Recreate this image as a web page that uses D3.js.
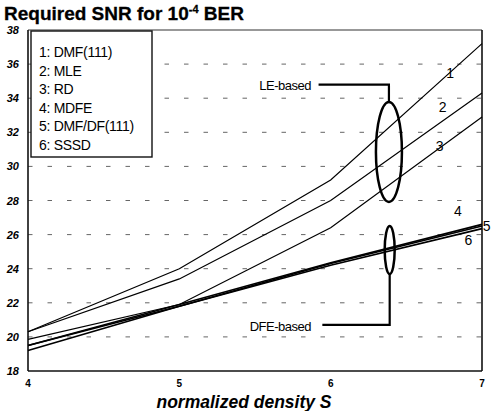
<!DOCTYPE html>
<html><head><meta charset="utf-8">
<script src="https://cdn.jsdelivr.net/npm/d3@7"></script>
<style>body{margin:0;background:#fff}svg{display:block}</style>
</head><body>
<script>
// ---- data ----
const densities = [4, 5, 6, 7];
const seriesIds = ["1", "2", "3", "4", "5", "6"];
const seriesNames = ["DMF(111)", "MLE", "RD", "MDFE", "DMF/DF(111)", "SSSD"];
const dmf111 = [20.3, 24.0, 29.2, 37.2];
const mle    = [20.3, 23.4, 28.0, 34.3];
const rd     = [19.85, 21.9, 26.4, 32.9];
const mdfe   = [19.5, 21.9, 24.35, 26.6];
const dmfdf  = [19.5, 21.8, 24.3, 26.5];
const sssd   = [19.2, 21.8, 24.2, 26.35];
const seriesValues = [dmf111, mle, rd, mdfe, dmfdf, sssd];
const yTicks = [18, 20, 22, 24, 26, 28, 30, 32, 34, 36, 38];
const xTicks = [4, 5, 6, 7];

const W = 491, H = 411;
const svg = d3.select("body").append("svg").attr("width", W).attr("height", H);
const x = d3.scaleLinear().domain([4, 7]).range([28, 482]);
const y = d3.scaleLinear().domain([18, 38]).range([371, 30]);
const FONT = "Liberation Sans, Arial, sans-serif";

// grid
svg.append("g").selectAll("line").data(yTicks.filter(v => v > 18 && v < 38)).join("line")
  .attr("x1", x(4)).attr("x2", x(7)).attr("y1", d => y(d)).attr("y2", d => y(d))
  .attr("stroke", "#666").attr("stroke-width", 1).attr("stroke-dasharray", "4.5,15");

// frame
svg.append("line").attr("x1", x(4)).attr("x2", x(7)).attr("y1", y(38)).attr("y2", y(38))
  .attr("stroke", "#333").attr("stroke-width", 1.2);
svg.append("line").attr("x1", x(4)).attr("x2", x(7)).attr("y1", y(18)).attr("y2", y(18))
  .attr("stroke", "#111").attr("stroke-width", 1.6);
svg.append("line").attr("x1", x(4)).attr("x2", x(4)).attr("y1", y(38)).attr("y2", y(18))
  .attr("stroke", "#111").attr("stroke-width", 1.6);
svg.append("line").attr("x1", x(7)).attr("x2", x(7)).attr("y1", y(38)).attr("y2", y(18))
  .attr("stroke", "#111").attr("stroke-width", 1.6);

// y tick labels
svg.append("g").selectAll("text").data(yTicks).join("text")
  .attr("x", 19).attr("y", d => y(d) + 4).attr("text-anchor", "end")
  .attr("font-family", FONT).attr("font-weight", "bold")
  .attr("font-style", "italic").attr("font-size", 11).text(d => d);
// x tick labels
svg.append("g").selectAll("text").data(xTicks).join("text")
  .attr("x", d => x(d)).attr("y", 387).attr("text-anchor", "middle")
  .attr("font-family", FONT).attr("font-weight", "bold")
  .attr("font-size", 10).text(d => d);

// lines
const line = d3.line().x((d, i) => x(densities[i])).y(d => y(d));
svg.append("g").selectAll("path").data(seriesValues).join("path")
  .attr("d", d => line(d)).attr("fill", "none").attr("stroke", "#000")
  .attr("stroke-width", (d, i) => i >= 3 ? 1.6 : 1.2);

// series end labels
const endLabels = [
  {id: "1", dx: 6.79, v: 35.5},
  {id: "2", dx: 6.74, v: 33.5},
  {id: "3", dx: 6.72, v: 31.2},
  {id: "4", dx: 6.84, v: 27.4},
  {id: "5", dx: 7.03, v: 26.5},
  {id: "6", dx: 6.91, v: 25.7}
];
svg.append("g").selectAll("text").data(endLabels).join("text")
  .attr("x", d => x(d.dx)).attr("y", d => y(d.v) + 5).attr("text-anchor", "middle")
  .attr("font-family", FONT).attr("font-size", 14)
  .text(d => d.id);

// LE-based annotation
const ann = svg.append("g").attr("fill", "none").attr("stroke", "#000");
ann.append("ellipse").attr("cx", x(6.385)).attr("cy", y(30.85)).attr("rx", 13).attr("ry", 50)
  .attr("stroke-width", 2.5);
ann.append("path").attr("d", `M${x(5.92)},${y(34.8)} H${x(6.385)} V${y(30.85) - 50}`)
  .attr("stroke-width", 2.2);
// DFE-based annotation
ann.append("ellipse").attr("cx", x(6.39)).attr("cy", y(25.1)).attr("rx", 5).attr("ry", 24)
  .attr("stroke-width", 2.5);
ann.append("path").attr("d", `M${x(5.945)},${y(20.7)} H${x(6.39)} V${y(25.1) + 24}`)
  .attr("stroke-width", 2.2);

svg.append("text").attr("x", x(5.87)).attr("y", y(34.8) + 5).attr("text-anchor", "end")
  .attr("font-family", FONT).attr("font-size", 13)
  .attr("letter-spacing", -0.5).text("LE-based");
svg.append("text").attr("x", x(5.87)).attr("y", y(20.7) + 6).attr("text-anchor", "end")
  .attr("font-family", FONT).attr("font-size", 13)
  .attr("letter-spacing", -0.5).text("DFE-based");

// legend
svg.append("rect").attr("x", 31).attr("y", 31).attr("width", 121).attr("height", 126)
  .attr("fill", "#fff").attr("stroke", "#111").attr("stroke-width", 1.4);
svg.append("g").selectAll("text").data(seriesNames).join("text")
  .attr("x", 39).attr("y", (d, i) => 57 + i * 18.5)
  .attr("font-family", FONT).attr("font-size", 14)
  .attr("letter-spacing", -0.3)
  .text((d, i) => seriesIds[i] + ": " + d);

// title
const title = svg.append("text").attr("x", 4).attr("y", 20)
  .attr("font-family", FONT).attr("font-weight", "bold")
  .attr("font-size", 19).attr("stroke", "#000").attr("stroke-width", 0.3);
title.append("tspan").text("Required SNR for 10");
title.append("tspan").attr("font-size", 11).attr("dy", -7).text("-4");
title.append("tspan").attr("dy", 7).text(" BER");

// x axis title
const xt = svg.append("text").attr("x", 244).attr("y", 408).attr("text-anchor", "middle")
  .attr("font-family", FONT).attr("font-weight", "bold")
  .attr("font-style", "italic").attr("font-size", 17.5);
xt.append("tspan").text("normalized density ");
xt.append("tspan").text("S");
</script>
</body></html>
